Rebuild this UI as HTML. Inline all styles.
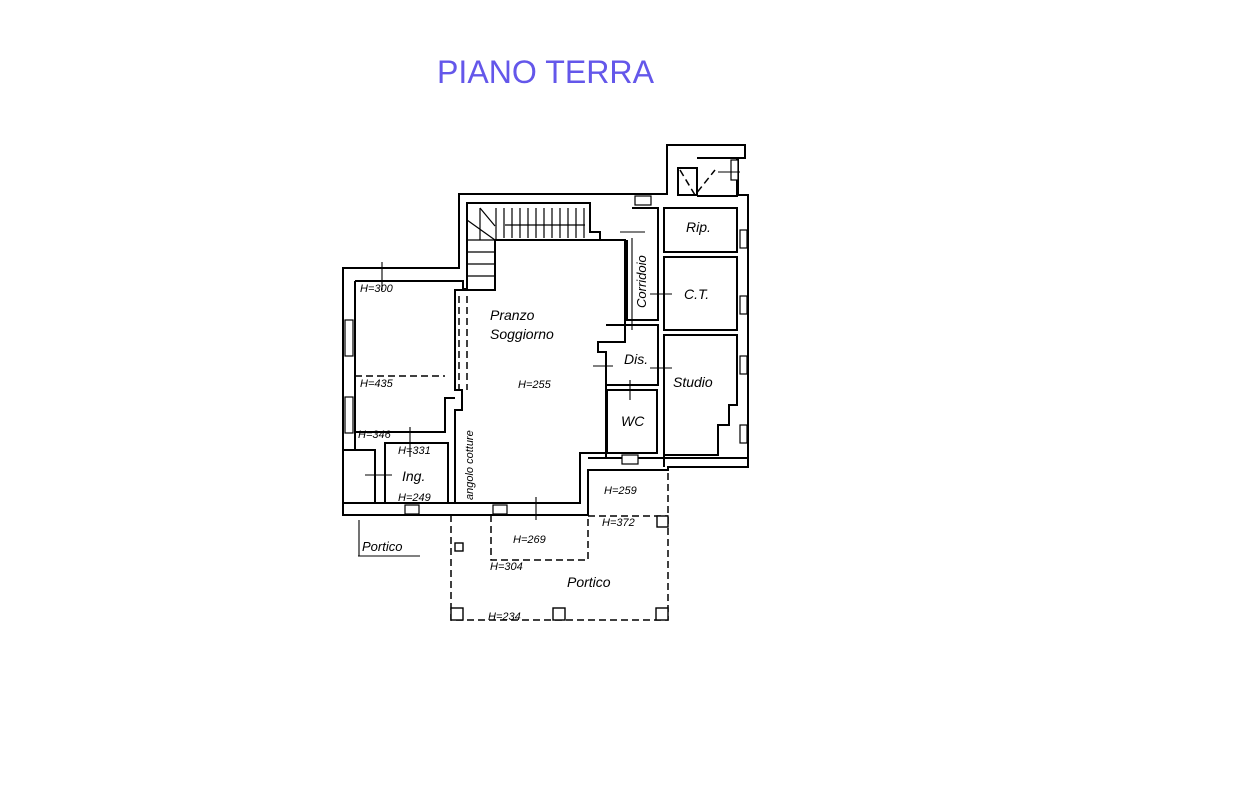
<!DOCTYPE html>
<html><head><meta charset="utf-8"><style>
html,body{margin:0;padding:0;background:#fff;}
svg{display:block;}
text{font-family:"Liberation Sans",sans-serif;}
</style></head><body>
<svg width="1241" height="798" viewBox="0 0 1241 798" xmlns="http://www.w3.org/2000/svg">
<rect width="1241" height="798" fill="#fff"/>
<text x="437" y="83" font-size="32" fill="#6457ea" textLength="217" lengthAdjust="spacingAndGlyphs">PIANO TERRA</text>
<g fill="none" stroke="#000" stroke-width="2">
<path d="M343,268 H459 V194 H667 V145 H745 V158 H738 V195 H748 V467 H668 V470 H588 V515 H343 Z"/>
<path d="M678,168 H697 V195 H678 Z"/>
<path d="M697,158 H737 V196 H697"/>
<path d="M355,281 H463 V289 H467 V290 M355,281 V432 H445 V398 H455"/>
<path d="M355,432 V450 H343"/>
<path d="M385,443 H448 V503 H385 Z"/>
<path d="M343,450 H375 V503 H385"/>
<path d="M343,503 H385 M448,503 H455"/>
<path d="M455,503 V410 H462 V390 H455 V290 H467 V203 H590 V232 H600 V240 H625 V342 H598 V352 H606 V453 H580 V503 H455"/>
<path d="M495,240 V290 H467 M495,240 H600"/>
<g stroke-width="1.2">
<path d="M467,252 H495 M467,264 H495 M467,276 H495 M467,240 H495"/>
<path d="M480,208 V240 M496,208 V240 M504,208 V238 M512,208 V238 M520,208 V238 M528,208 V238 M536,208 V238 M544,208 V238 M552,208 V238 M560,208 V238 M568,208 V238 M576,208 V238 M584,208 V238"/>
<path d="M467,220 L495,240 M480,208 L495,226"/>
<path d="M505,225 H585"/>
</g>
<path d="M632,208 H658 V320 H627 V240"/>
<path d="M664,208 H737 V252 H664 Z"/>
<path d="M664,257 H737 V330 H664 Z"/>
<path d="M664,335 H737 V405 H729 V425 H718 V455 H664 Z"/>
<path d="M606,325 H658 V385 H606"/>
<path d="M607,390 H657 V453 H607 Z"/>
<path d="M588,458 H748 M664,455 V467 M606,453 V458"/>
<path d="M588,503 V515"/>
</g>
<g fill="#fff" stroke="#000" stroke-width="1.2">
<rect x="345" y="320" width="8" height="36"/><rect x="345" y="397" width="8" height="36"/>
<rect x="740" y="230" width="7" height="18"/><rect x="740" y="296" width="7" height="18"/><rect x="740" y="356" width="7" height="18"/><rect x="740" y="425" width="7" height="18"/>
<rect x="405" y="505" width="14" height="9"/><rect x="493" y="505" width="14" height="9"/><rect x="622" y="455" width="16" height="9"/>
<rect x="635" y="196" width="16" height="9"/><rect x="731" y="160" width="7" height="20"/>
</g>
<g fill="none" stroke="#000" stroke-width="1.5" stroke-dasharray="7,4">
<path d="M451,515 V620 H668 V470"/>
<path d="M491,515 V560 H588 V515"/>
<path d="M588,516 H668"/>
<path d="M355,376 H445"/>
<path d="M459,296 V390 M467,296 V390"/>
<path d="M680,170 L695,195 L715,170"/>
</g>
<g fill="#fff" stroke="#000" stroke-width="1.4">
<rect x="451" y="608" width="12" height="12"/><rect x="553" y="608" width="12" height="12"/><rect x="656" y="608" width="12" height="12"/><rect x="657" y="516" width="11" height="11"/><rect x="455" y="543" width="8" height="8"/>
</g>
<g stroke="#000" stroke-width="1.1">
<path d="M382,262 V290 M365,475 H392 M536,497 V520 M593,366 H613 M632,238 V312 M620,232 H645 M650,294 H672 M632,312 V330 M650,368 H672 M630,380 V400 M718,172 H740 M358,556 H420 M359,520 V556 M410,427 V457"/>
</g>
<g font-style="italic" fill="#000">
<text x="360" y="292" font-size="11">H=300</text>
<text x="360" y="387" font-size="11">H=435</text>
<text x="358" y="438" font-size="11">H=346</text>
<text x="398" y="454" font-size="11">H=331</text>
<text x="402" y="481" font-size="14">Ing.</text>
<text x="398" y="501" font-size="11">H=249</text>
<text x="490" y="320" font-size="14">Pranzo</text>
<text x="490" y="339" font-size="14">Soggiorno</text>
<text x="518" y="388" font-size="11">H=255</text>
<text x="686" y="232" font-size="14">Rip.</text>
<text x="684" y="299" font-size="14">C.T.</text>
<text x="624" y="364" font-size="14">Dis.</text>
<text x="673" y="387" font-size="14">Studio</text>
<text x="621" y="426" font-size="14">WC</text>
<text x="604" y="494" font-size="11">H=259</text>
<text x="602" y="526" font-size="11">H=372</text>
<text x="513" y="543" font-size="11">H=269</text>
<text x="490" y="570" font-size="11">H=304</text>
<text x="567" y="587" font-size="14">Portico</text>
<text x="488" y="620" font-size="11">H=234</text>
<text x="362" y="551" font-size="13">Portico</text>
<text transform="translate(646,308) rotate(-90)" font-size="13">Corridoio</text>
<text transform="translate(473,500) rotate(-90)" font-size="11">angolo cotture</text>
</g>
</svg>
</body></html>
